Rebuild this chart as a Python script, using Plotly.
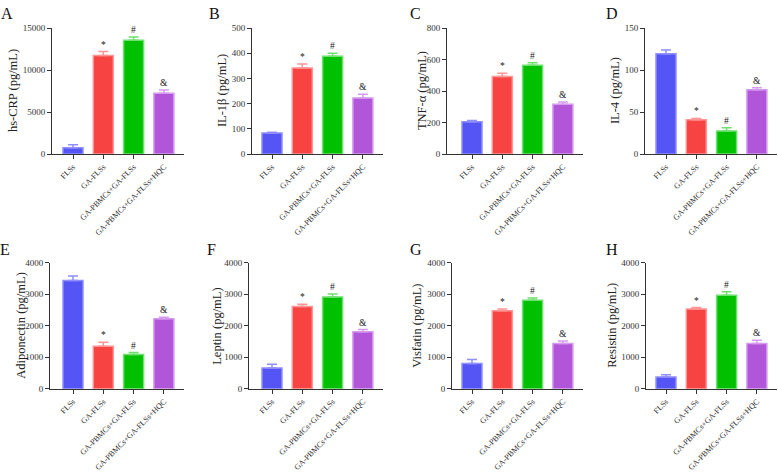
import plotly.graph_objects as go

categories = ["FLSs", "GA-FLSs", "GA-PBMCs+GA-FLSs", "GA-PBMCs+GA-FLSs+HQC"]
panel_letters = ["A", "B", "C", "D", "E", "F", "G", "H"]
y_titles = ["hs-CRP (pg/mL)", "IL-1β (pg/mL)", "TNF-α (pg/mL)", "IL-4 (pg/mL)",
            "Adiponectin (pg/mL)", "Leptin (pg/mL)", "Visfatin (pg/mL)", "Resistin (pg/mL)"]
y_max = [15000, 500, 800, 150, 4000, 4000, 4000, 4000]
y_dtick = [5000, 100, 200, 50, 1000, 1000, 1000, 1000]
sig_marks = ["", "*", "#", "&"]

hs_crp = [750, 11750, 13550, 7250]
hs_crp_err = [350, 450, 380, 380]
il1b = [84, 342, 388, 223]
il1b_err = [3, 15, 12, 14]
tnfa = [206, 493, 564, 316]
tnfa_err = [8, 20, 16, 14]
il4 = [119.5, 41, 27.5, 76.5]
il4_err = [4.5, 1.5, 3.8, 2.5]
adiponectin = [3440, 1350, 1090, 2220]
adiponectin_err = [140, 130, 60, 50]
leptin = [660, 2610, 2910, 1810]
leptin_err = [120, 70, 100, 70]
visfatin = [800, 2480, 2810, 1440]
visfatin_err = [130, 50, 70, 80]
resistin = [375, 2530, 2970, 1440]
resistin_err = [70, 50, 110, 100]

values = [hs_crp, il1b, tnfa, il4, adiponectin, leptin, visfatin, resistin]
errors = [hs_crp_err, il1b_err, tnfa_err, il4_err, adiponectin_err, leptin_err, visfatin_err, resistin_err]

bar_colors = ["#5555F5", "#F84343", "#00C000", "#B156D8"]
edge_colors = ["#8F8FFF", "#FF9595", "#6EE06E", "#D69BEE"]

W, H = 778, 472
SP = 30.3  # px per category
# layout geometry (pixels)
axis_x = [52, 252, 447, 645, 50, 249, 452, 646]
first_c = [73, 272, 472, 666, 73, 272, 472, 666]
title_x = [13, 222, 422, 615, 21, 217, 417, 612]
letter_x = [7, 214, 416, 612, 5, 212, 416, 612]
row_y0 = [155, 399]
row_top = [24, 268]
letter_y = [9, 254]

SERIF = "Liberation Serif, Times New Roman, serif"
fig = go.Figure()
annotations = []
layout = {}

for i in range(8):
    row = i // 4
    suf = "" if i == 0 else str(i + 1)
    xa, ya = "x" + suf, "y" + suf
    for j in range(4):
        fig.add_trace(go.Bar(
            x=[categories[j]], y=[values[i][j]], width=20 / SP,
            marker=dict(color=bar_colors[j], line=dict(color=edge_colors[j], width=1.5)),
            error_y=dict(type="data", array=[errors[i][j]], arrayminus=[0], symmetric=False,
                         color=edge_colors[j], thickness=1.5, width=5),
            xaxis=xa, yaxis=ya, showlegend=False, hoverinfo="skip"))
        if sig_marks[j]:
            annotations.append(dict(x=categories[j], y=values[i][j] + errors[i][j], xref=xa, yref=ya,
                                    text=sig_marks[j], showarrow=False, yanchor="bottom", yshift=0,
                                    font=dict(family=SERIF, size=9.5, color="#222")))
    left = axis_x[i]
    right = first_c[i] + 3 * SP + 20
    y0, yt = row_y0[row], row_top[row]
    layout["xaxis" + suf] = dict(
        domain=[left / W, min(right / W, 1)], anchor=ya, type="category",
        categoryorder="array", categoryarray=categories,
        range=[-(first_c[i] - left) / SP, 3 + 20 / SP],
        showline=True, linecolor="#333", linewidth=1, ticks="outside", ticklen=4,
        tickcolor="#333", tickangle=-45, tickfont=dict(family=SERIF, size=8, color="#333"),
        showgrid=False, zeroline=False, fixedrange=True)
    layout["yaxis" + suf] = dict(
        domain=[1 - y0 / H, 1 - yt / H], anchor=xa, range=[0, y_max[i]], dtick=y_dtick[i],
        tickformat="d",
        showline=True, linecolor="#333", linewidth=1, ticks="outside", ticklen=4,
        tickcolor="#333", tickfont=dict(family=SERIF, size=9, color="#333"),
        showgrid=False, zeroline=False, fixedrange=True)
    annotations.append(dict(x=title_x[i] / W, y=1 - (y0 + yt) / 2 / H, xref="paper", yref="paper",
                            text=y_titles[i], textangle=-90, showarrow=False,
                            xanchor="center", yanchor="middle",
                            font=dict(family=SERIF, size=12.5, color="#222")))
    annotations.append(dict(x=letter_x[i] / W, y=1 - letter_y[row] / H, xref="paper", yref="paper",
                            text=panel_letters[i], showarrow=False, xanchor="center", yanchor="middle",
                            font=dict(family=SERIF, size=16, color="#111")))

fig.update_layout(**layout)
fig.update_layout(width=W, height=H, margin=dict(l=0, r=0, t=0, b=0),
                  paper_bgcolor="white", plot_bgcolor="white", barmode="overlay",
                  annotations=annotations, showlegend=False)
fig.write_html("out.html")
